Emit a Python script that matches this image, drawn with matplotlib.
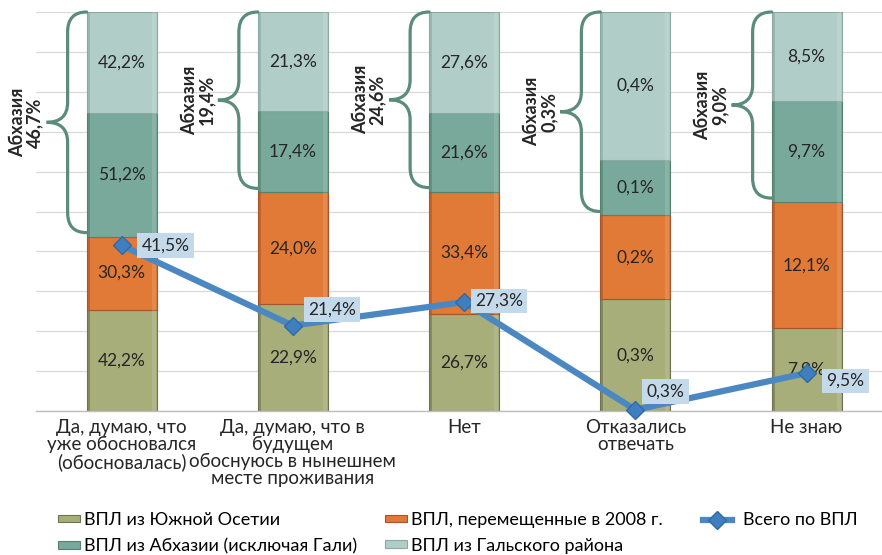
import matplotlib
matplotlib.use("Agg")
import matplotlib.pyplot as plt
from matplotlib.path import Path
from matplotlib.patches import PathPatch, Rectangle

plt.rcParams['font.family'] = ['Lato', 'DejaVu Sans']

categories = ["Да, думаю, что\nуже обосновался\n(обосновалась)",
              "Да, думаю, что в\nбудущем\nобоснуюсь в нынешнем\nместе проживания",
              "Нет", "Отказались\nотвечать", "Не знаю"]
south_ossetia = [42.2, 22.9, 26.7, 0.28, 7.9]
displaced_2008 = [30.3, 24.0, 33.4, 0.21, 12.1]
abkhazia_ex_gali = [51.2, 17.4, 21.6, 0.14, 9.7]
gali = [42.2, 21.3, 27.6, 0.37, 8.5]
total_idp = [41.5, 21.4, 27.3, 0.3, 9.5]
abkhazia_total = [46.7, 19.4, 24.6, 0.3, 9.0]
series_names = ["ВПЛ из Южной Осетии", "ВПЛ, перемещенные в 2008 г.",
                "ВПЛ из Абхазии (исключая Гали)", "ВПЛ из Гальского района"]
line_name = "Всего по ВПЛ"

colors = ['#a7ae7a', '#e27a37', '#79a99b', '#b1cdc7']
edge_dark = ['#6f7450', '#a9542a', '#55826f', '#8aa9a2']
line_color = '#4b88c2'
brace_color = '#5a8b7b'
text_color = '#262626'

def fmt(v):
    return f"{v:.1f}".replace('.', ',') + '%'

W, H = 882, 555
fig = plt.figure(figsize=(W / 100, H / 100), dpi=100)
ax_left, ax_bot, ax_w, ax_h = 36, 144, 846, 399
ax = fig.add_axes([ax_left / W, ax_bot / H, ax_w / W, ax_h / H])
cat_px = 171.25
ax.set_xlim(-0.5, -0.5 + ax_w / cat_px)
ax.set_ylim(0, 100)
dxp = 1 / cat_px
dyp = 100 / ax_h

ax.set_yticks(range(0, 101, 10))
ax.yaxis.grid(True, color='#d9d9d9', linewidth=0.9)
ax.set_axisbelow(True)
ax.tick_params(axis='y', length=0, labelleft=False)
for s in ['top', 'right', 'left']:
    ax.spines[s].set_visible(False)
ax.spines['bottom'].set_color('#bfbfbf')
ax.spines['bottom'].set_linewidth(1.0)

series = [south_ossetia, displaced_2008, abkhazia_ex_gali, gali]
n = len(categories)
x = list(range(n))
bw = 70 / cat_px
totals = [sum(s[i] for s in series) for i in range(n)]
bottoms = [0.0] * n
handles = []
for k, s in enumerate(series):
    shares = [s[i] / totals[i] * 100 for i in range(n)]
    bars = ax.bar(x, shares, bw, bottom=bottoms, color=colors[k],
                  edgecolor=edge_dark[k], linewidth=0.8, zorder=2, label=series_names[k])
    handles.append(bars)
    for i in range(n):
        ax.add_patch(Rectangle((x[i] - bw / 2, bottoms[i]), 3 * dxp, shares[i],
                               facecolor=edge_dark[k], edgecolor='none', alpha=0.6, zorder=2.1))
        ax.add_patch(Rectangle((x[i] + bw / 2 - 5 * dxp, bottoms[i]), 4 * dxp, shares[i],
                               facecolor='white', edgecolor='none', alpha=0.12, zorder=2.1))
        ax.text(x[i], bottoms[i] + shares[i] / 2, fmt(s[i]), ha='center', va='center',
                fontsize=12.5, color=text_color, zorder=3)
    bottoms = [bottoms[i] + shares[i] for i in range(n)]

# braces for Abkhazia
lower = [(south_ossetia[i] + displaced_2008[i]) / totals[i] * 100 for i in range(n)]
for i in range(n):
    x_tip = x[i] - bw / 2 - 40 * dxp
    s_x = x_tip + 21 * dxp
    e_x = x_tip + 40 * dxp
    yt = 100
    yb = lower[i] + 1.0
    ym = (yt + yb) / 2
    r = 20 * dyp
    verts = [(e_x, yt), (s_x, yt), (s_x, yt - r), (s_x, ym + r), (s_x, ym), (x_tip, ym),
             (s_x, ym), (s_x, ym - r), (s_x, yb + r), (s_x, yb), (e_x, yb)]
    codes = [Path.MOVETO, Path.CURVE3, Path.CURVE3, Path.LINETO, Path.CURVE3, Path.CURVE3,
             Path.CURVE3, Path.CURVE3, Path.LINETO, Path.CURVE3, Path.CURVE3]
    ax.add_patch(PathPatch(Path(verts, codes), facecolor='none', edgecolor=brace_color,
                           linewidth=2.3, zorder=4, clip_on=False, capstyle='round'))
    ax.text(x_tip - 20 * dxp, ym, "Абхазия\n" + fmt(abkhazia_total[i]), rotation=90,
            ha='center', va='center', fontsize=13, fontweight='bold', color=text_color,
            linespacing=1.0, zorder=4)

# total line
ln, = ax.plot(x, total_idp, color=line_color, linewidth=4.5, marker='D', markersize=9,
              markerfacecolor='#3f7fbf', markeredgecolor='#2f6aa3', zorder=5, clip_on=False,
              label=line_name)
label_off = [(15, 0), (10, 16), (6, 1), (6, 18), (15, -8)]
for i in range(n):
    dx, dy = label_off[i]
    ax.annotate(fmt(total_idp[i]), (x[i], total_idp[i]), xytext=(dx + 5, dy),
                textcoords='offset pixels', ha='left', va='center', fontsize=12.5,
                color=text_color, zorder=6,
                bbox=dict(boxstyle='square,pad=0.25', facecolor='#c4d9ea', edgecolor='none'))

ax.set_xticks(x)
ax.set_xticklabels(categories, fontsize=13.5, color=text_color, linespacing=0.98)
ax.tick_params(axis='x', length=0, pad=6)

leg_kw = dict(loc='upper left', frameon=False, fontsize=13, handleheight=0.3,
              labelspacing=0.55, borderaxespad=0, borderpad=0)
y_leg = 1 - 512 / H
fig.legend(handles=[handles[0], handles[2]], labels=[series_names[0], series_names[2]],
           bbox_to_anchor=(58 / W, y_leg), handlelength=1.2, handletextpad=0.25, **leg_kw)
fig.legend(handles=[handles[1], handles[3]], labels=[series_names[1], series_names[3]],
           bbox_to_anchor=(385 / W, y_leg), handlelength=1.2, handletextpad=0.25, **leg_kw)
fig.legend(handles=[ln], labels=[line_name],
           bbox_to_anchor=(703 / W, y_leg), handlelength=1.6, handletextpad=0.6, **leg_kw)

fig.savefig("out.png", dpi=100)
